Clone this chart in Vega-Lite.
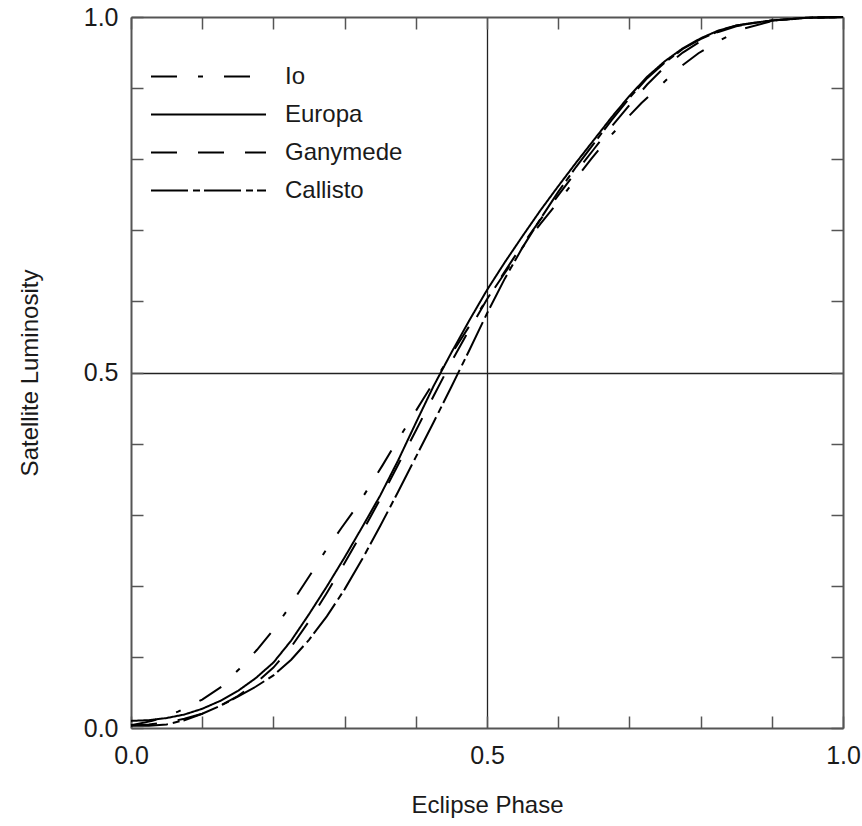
{
  "$schema": "https://vega.github.io/schema/vega-lite/v6.json",
  "width": 712,
  "height": 711,
  "autosize": {"type": "none"},
  "padding": {"left": 131, "top": 17, "right": 19, "bottom": 98},
  "background": "white",
  "config": {
    "view": {"stroke": null},
    "font": "Liberation Sans",
    "axis": {
      "labelFont": "Liberation Sans",
      "titleFont": "Liberation Sans",
      "labelFontSize": 25,
      "titleFontSize": 24,
      "titleFontWeight": "normal",
      "labelColor": "#1a1a1a",
      "titleColor": "#1a1a1a",
      "domainColor": "#555",
      "domainWidth": 2,
      "tickColor": "#555",
      "tickWidth": 1.5,
      "tickSize": -12
    }
  },
  "data": {
    "values": [
      {"series": "Europa", "x": 0, "y": 0.010},
      {"series": "Europa", "x": 0.025, "y": 0.011},
      {"series": "Europa", "x": 0.05, "y": 0.014},
      {"series": "Europa", "x": 0.075, "y": 0.019},
      {"series": "Europa", "x": 0.1, "y": 0.027},
      {"series": "Europa", "x": 0.125, "y": 0.038},
      {"series": "Europa", "x": 0.15, "y": 0.052},
      {"series": "Europa", "x": 0.175, "y": 0.070},
      {"series": "Europa", "x": 0.2, "y": 0.092},
      {"series": "Europa", "x": 0.225, "y": 0.123},
      {"series": "Europa", "x": 0.25, "y": 0.160},
      {"series": "Europa", "x": 0.275, "y": 0.199},
      {"series": "Europa", "x": 0.3, "y": 0.240},
      {"series": "Europa", "x": 0.325, "y": 0.283},
      {"series": "Europa", "x": 0.35, "y": 0.327},
      {"series": "Europa", "x": 0.375, "y": 0.376},
      {"series": "Europa", "x": 0.4, "y": 0.429},
      {"series": "Europa", "x": 0.425, "y": 0.481},
      {"series": "Europa", "x": 0.45, "y": 0.528},
      {"series": "Europa", "x": 0.475, "y": 0.573},
      {"series": "Europa", "x": 0.5, "y": 0.616},
      {"series": "Europa", "x": 0.525, "y": 0.655},
      {"series": "Europa", "x": 0.55, "y": 0.692},
      {"series": "Europa", "x": 0.575, "y": 0.728},
      {"series": "Europa", "x": 0.6, "y": 0.762},
      {"series": "Europa", "x": 0.625, "y": 0.795},
      {"series": "Europa", "x": 0.65, "y": 0.827},
      {"series": "Europa", "x": 0.675, "y": 0.859},
      {"series": "Europa", "x": 0.7, "y": 0.889},
      {"series": "Europa", "x": 0.725, "y": 0.916},
      {"series": "Europa", "x": 0.75, "y": 0.938},
      {"series": "Europa", "x": 0.775, "y": 0.956},
      {"series": "Europa", "x": 0.8, "y": 0.970},
      {"series": "Europa", "x": 0.825, "y": 0.981},
      {"series": "Europa", "x": 0.85, "y": 0.988},
      {"series": "Europa", "x": 0.875, "y": 0.992},
      {"series": "Europa", "x": 0.9, "y": 0.995},
      {"series": "Europa", "x": 0.95, "y": 0.999},
      {"series": "Europa", "x": 1.0, "y": 1.0},
      {"series": "Ganymede", "x": 0, "y": 0.004},
      {"series": "Ganymede", "x": 0.025, "y": 0.005},
      {"series": "Ganymede", "x": 0.05, "y": 0.008},
      {"series": "Ganymede", "x": 0.075, "y": 0.013},
      {"series": "Ganymede", "x": 0.1, "y": 0.020},
      {"series": "Ganymede", "x": 0.125, "y": 0.031},
      {"series": "Ganymede", "x": 0.15, "y": 0.045},
      {"series": "Ganymede", "x": 0.175, "y": 0.063},
      {"series": "Ganymede", "x": 0.2, "y": 0.085},
      {"series": "Ganymede", "x": 0.225, "y": 0.114},
      {"series": "Ganymede", "x": 0.25, "y": 0.150},
      {"series": "Ganymede", "x": 0.275, "y": 0.190},
      {"series": "Ganymede", "x": 0.3, "y": 0.232},
      {"series": "Ganymede", "x": 0.325, "y": 0.276},
      {"series": "Ganymede", "x": 0.35, "y": 0.322},
      {"series": "Ganymede", "x": 0.375, "y": 0.370},
      {"series": "Ganymede", "x": 0.4, "y": 0.418},
      {"series": "Ganymede", "x": 0.425, "y": 0.467},
      {"series": "Ganymede", "x": 0.45, "y": 0.515},
      {"series": "Ganymede", "x": 0.475, "y": 0.560},
      {"series": "Ganymede", "x": 0.5, "y": 0.603},
      {"series": "Ganymede", "x": 0.525, "y": 0.642},
      {"series": "Ganymede", "x": 0.55, "y": 0.680},
      {"series": "Ganymede", "x": 0.575, "y": 0.715},
      {"series": "Ganymede", "x": 0.6, "y": 0.749},
      {"series": "Ganymede", "x": 0.625, "y": 0.782},
      {"series": "Ganymede", "x": 0.65, "y": 0.814},
      {"series": "Ganymede", "x": 0.675, "y": 0.846},
      {"series": "Ganymede", "x": 0.7, "y": 0.876},
      {"series": "Ganymede", "x": 0.725, "y": 0.905},
      {"series": "Ganymede", "x": 0.75, "y": 0.930},
      {"series": "Ganymede", "x": 0.775, "y": 0.950},
      {"series": "Ganymede", "x": 0.8, "y": 0.966},
      {"series": "Ganymede", "x": 0.825, "y": 0.979},
      {"series": "Ganymede", "x": 0.85, "y": 0.987},
      {"series": "Ganymede", "x": 0.9, "y": 0.995},
      {"series": "Ganymede", "x": 0.95, "y": 0.999},
      {"series": "Ganymede", "x": 1.0, "y": 1.0},
      {"series": "Callisto", "x": 0, "y": 0.003},
      {"series": "Callisto", "x": 0.025, "y": 0.003},
      {"series": "Callisto", "x": 0.05, "y": 0.005},
      {"series": "Callisto", "x": 0.075, "y": 0.011},
      {"series": "Callisto", "x": 0.1, "y": 0.020},
      {"series": "Callisto", "x": 0.125, "y": 0.031},
      {"series": "Callisto", "x": 0.15, "y": 0.044},
      {"series": "Callisto", "x": 0.175, "y": 0.058},
      {"series": "Callisto", "x": 0.2, "y": 0.074},
      {"series": "Callisto", "x": 0.225, "y": 0.096},
      {"series": "Callisto", "x": 0.25, "y": 0.124},
      {"series": "Callisto", "x": 0.275, "y": 0.157},
      {"series": "Callisto", "x": 0.3, "y": 0.195},
      {"series": "Callisto", "x": 0.325, "y": 0.238},
      {"series": "Callisto", "x": 0.35, "y": 0.284},
      {"series": "Callisto", "x": 0.375, "y": 0.332},
      {"series": "Callisto", "x": 0.4, "y": 0.381},
      {"series": "Callisto", "x": 0.425, "y": 0.430},
      {"series": "Callisto", "x": 0.45, "y": 0.480},
      {"series": "Callisto", "x": 0.475, "y": 0.531},
      {"series": "Callisto", "x": 0.5, "y": 0.583},
      {"series": "Callisto", "x": 0.525, "y": 0.632},
      {"series": "Callisto", "x": 0.55, "y": 0.676},
      {"series": "Callisto", "x": 0.575, "y": 0.716},
      {"series": "Callisto", "x": 0.6, "y": 0.754},
      {"series": "Callisto", "x": 0.625, "y": 0.789},
      {"series": "Callisto", "x": 0.65, "y": 0.822},
      {"series": "Callisto", "x": 0.675, "y": 0.855},
      {"series": "Callisto", "x": 0.7, "y": 0.886},
      {"series": "Callisto", "x": 0.725, "y": 0.914},
      {"series": "Callisto", "x": 0.75, "y": 0.936},
      {"series": "Callisto", "x": 0.775, "y": 0.955},
      {"series": "Callisto", "x": 0.8, "y": 0.969},
      {"series": "Callisto", "x": 0.825, "y": 0.980},
      {"series": "Callisto", "x": 0.85, "y": 0.988},
      {"series": "Callisto", "x": 0.9, "y": 0.995},
      {"series": "Callisto", "x": 0.95, "y": 0.999},
      {"series": "Callisto", "x": 1.0, "y": 1.0},
      {"series": "Io", "x": 0, "y": 0.004},
      {"series": "Io", "x": 0.03, "y": 0.010},
      {"series": "Io", "x": 0.066, "y": 0.023},
      {"series": "Io", "x": 0.1, "y": 0.040},
      {"series": "Io", "x": 0.127, "y": 0.058},
      {"series": "Io", "x": 0.152, "y": 0.083},
      {"series": "Io", "x": 0.177, "y": 0.110},
      {"series": "Io", "x": 0.2, "y": 0.138},
      {"series": "Io", "x": 0.219, "y": 0.165},
      {"series": "Io", "x": 0.237, "y": 0.193},
      {"series": "Io", "x": 0.256, "y": 0.222},
      {"series": "Io", "x": 0.275, "y": 0.252},
      {"series": "Io", "x": 0.296, "y": 0.282},
      {"series": "Io", "x": 0.317, "y": 0.311},
      {"series": "Io", "x": 0.335, "y": 0.340},
      {"series": "Io", "x": 0.353, "y": 0.369},
      {"series": "Io", "x": 0.371, "y": 0.399},
      {"series": "Io", "x": 0.389, "y": 0.428},
      {"series": "Io", "x": 0.41, "y": 0.462},
      {"series": "Io", "x": 0.43, "y": 0.494},
      {"series": "Io", "x": 0.45, "y": 0.526},
      {"series": "Io", "x": 0.475, "y": 0.565},
      {"series": "Io", "x": 0.5, "y": 0.603},
      {"series": "Io", "x": 0.525, "y": 0.640},
      {"series": "Io", "x": 0.55, "y": 0.676},
      {"series": "Io", "x": 0.575, "y": 0.709},
      {"series": "Io", "x": 0.6, "y": 0.740},
      {"series": "Io", "x": 0.626, "y": 0.774},
      {"series": "Io", "x": 0.647, "y": 0.801},
      {"series": "Io", "x": 0.668, "y": 0.827},
      {"series": "Io", "x": 0.694, "y": 0.855},
      {"series": "Io", "x": 0.717, "y": 0.879},
      {"series": "Io", "x": 0.743, "y": 0.903},
      {"series": "Io", "x": 0.769, "y": 0.928},
      {"series": "Io", "x": 0.797, "y": 0.949},
      {"series": "Io", "x": 0.825, "y": 0.966},
      {"series": "Io", "x": 0.858, "y": 0.983},
      {"series": "Io", "x": 0.9, "y": 0.994},
      {"series": "Io", "x": 0.95, "y": 0.999},
      {"series": "Io", "x": 1.0, "y": 1.0}
    ]
  },
  "layer": [
    {
      "mark": {"type": "line", "color": "black", "strokeWidth": 2},
      "encoding": {
        "x": {
          "field": "x", "type": "quantitative",
          "scale": {"domain": [0, 1], "nice": false, "zero": false},
          "axis": {
            "orient": "bottom",
            "title": "Eclipse Phase",
            "values": [0, 0.1, 0.2, 0.3, 0.4, 0.5, 0.6, 0.7, 0.8, 0.9, 1.0],
            "labelExpr": "datum.value == 0 || datum.value == 0.5 || datum.value == 1 ? format(datum.value, '.1f') : ''",
            "labelFlush": false,
            "labelPadding": 27,
            "titlePadding": 25,
            "grid": true,
            "gridColor": "#222",
            "gridWidth": 1.3,
            "gridOpacity": {"condition": {"test": "datum.value === 0.5", "value": 1}, "value": 0}
          }
        },
        "y": {
          "field": "y", "type": "quantitative",
          "scale": {"domain": [0, 1], "nice": false, "zero": false},
          "axis": {
            "orient": "left",
            "title": "Satellite Luminosity",
            "values": [0, 0.1, 0.2, 0.3, 0.4, 0.5, 0.6, 0.7, 0.8, 0.9, 1.0],
            "labelExpr": "datum.value == 0 || datum.value == 0.5 || datum.value == 1 ? format(datum.value, '.1f') : ''",
            "labelFlush": false,
            "labelPadding": 25,
            "titlePadding": 41,
            "grid": true,
            "gridColor": "#222",
            "gridWidth": 1.3,
            "gridOpacity": {"condition": {"test": "datum.value === 0.5", "value": 1}, "value": 0}
          }
        },
        "strokeDash": {
          "field": "series", "type": "nominal",
          "scale": {
            "domain": ["Io", "Europa", "Ganymede", "Callisto"],
            "range": [[26, 21, 5, 21], [1, 0], [26, 21], [37, 5, 7, 4]]
          },
          "legend": {
            "orient": "none",
            "legendX": 65,
            "legendY": 47,
            "padding": 0,
            "title": null,
            "symbolType": "M-5,0H5",
            "symbolSize": 529,
            "symbolStrokeWidth": 2,
            "symbolStrokeColor": "black",
            "symbolFillColor": "transparent",
            "labelFont": "Liberation Sans",
            "labelFontSize": 24,
            "labelColor": "#1a1a1a",
            "labelOffset": 64,
            "rowPadding": 13
          }
        }
      }
    },
    {
      "mark": {"type": "line", "opacity": 0},
      "encoding": {
        "x": {
          "field": "x", "type": "quantitative",
          "axis": {
            "orient": "top", "title": null, "labels": false, "grid": false,
            "values": [0, 0.1, 0.2, 0.3, 0.4, 0.5, 0.6, 0.7, 0.8, 0.9, 1.0]
          }
        },
        "y": {
          "field": "y", "type": "quantitative",
          "axis": {
            "orient": "right", "title": null, "labels": false, "grid": false,
            "values": [0, 0.1, 0.2, 0.3, 0.4, 0.5, 0.6, 0.7, 0.8, 0.9, 1.0]
          }
        },
        "detail": {"field": "series", "type": "nominal"}
      }
    }
  ],
  "resolve": {"axis": {"x": "independent", "y": "independent"}}
}
